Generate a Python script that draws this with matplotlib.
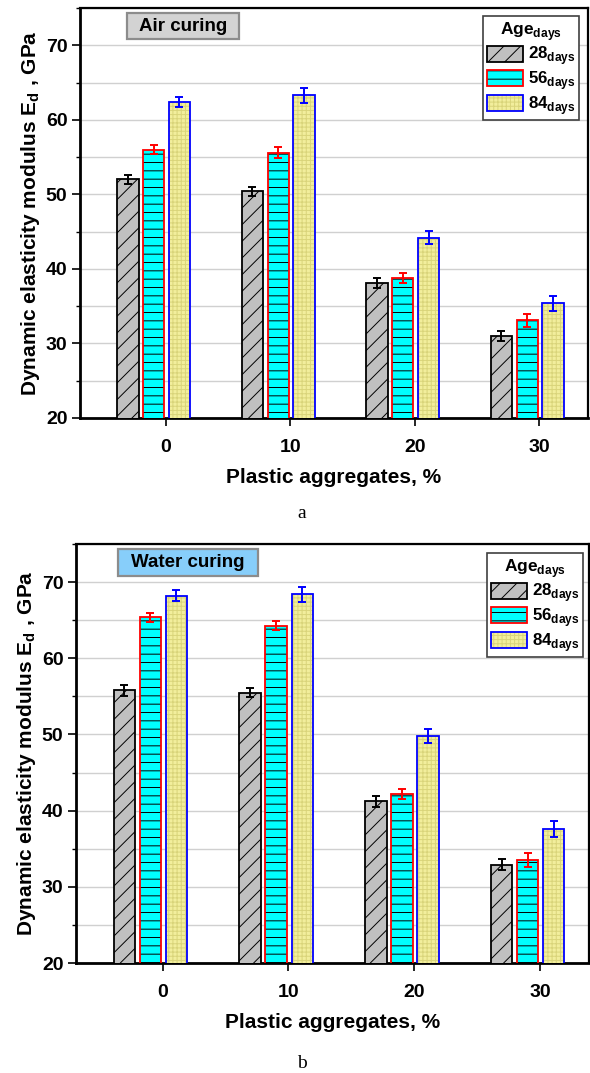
import numpy as np
import matplotlib
matplotlib.use("Agg")
import matplotlib.pyplot as plt
from matplotlib.patches import Patch, Rectangle
from matplotlib.legend_handler import HandlerTuple
from matplotlib.ticker import MultipleLocator

plt.rcParams['font.family'] = ['Liberation Sans', 'DejaVu Sans']
plt.rcParams['font.weight'] = 'bold'
plt.rcParams['mathtext.fontset'] = 'custom'
plt.rcParams['mathtext.rm'] = 'Liberation Sans:bold'
plt.rcParams['mathtext.bf'] = 'Liberation Sans:bold'
plt.rcParams['hatch.linewidth'] = 0.7

# plastic aggregate content, %
plastic = [0, 10, 20, 30]
ages = ['28', '56', '84']

# dynamic modulus E_d (GPa), air curing
air_28 = [52.0, 50.4, 38.1, 31.0]
air_56 = [56.0, 55.6, 38.8, 33.1]
air_84 = [62.4, 63.3, 44.2, 35.4]
air_28_err = [0.6, 0.6, 0.7, 0.7]
air_56_err = [0.6, 0.7, 0.7, 0.9]
air_84_err = [0.7, 1.0, 0.9, 1.0]

# dynamic modulus E_d (GPa), water curing
water_28 = [55.8, 55.5, 41.2, 32.9]
water_56 = [65.4, 64.3, 42.2, 33.5]
water_84 = [68.2, 68.4, 49.8, 37.6]
water_28_err = [0.7, 0.6, 0.7, 0.7]
water_56_err = [0.6, 0.65, 0.7, 0.9]
water_84_err = [0.7, 1.0, 0.9, 1.0]

# fill, hatch colour, hatch, outline for each age
styles = [
    ('#c0c0c0', 'black', '//', 'black'),
    ('#00ffff', 'black', '--', 'red'),
    ('#f2ee9c', '#d9d47a', '++++', 'blue'),
]
offsets = [-3.05, -0.98, 1.09]
width = 1.7


def draw_panel(ax, series, errors, tag, tagcolor, tagbox, legpos):
    x = np.array(plastic, dtype=float)
    for vals, errs, off, (fc, hc, hatch, ec) in zip(series, errors, offsets, styles):
        ax.bar(x + off, vals, width, color=fc, edgecolor=hc,
               linewidth=0, hatch=hatch, zorder=3)
        ax.bar(x + off, vals, width, fill=False, edgecolor=ec,
               linewidth=1.3, zorder=4)
        ax.errorbar(x + off, vals, yerr=errs, fmt='none', ecolor=ec,
                    elinewidth=1.4, capsize=3.2, capthick=1.4, zorder=5)

    ax.set_ylim(20, 75)
    ax.set_xlim(-6.9, 33.9)
    ax.set_xticks(plastic)
    ax.yaxis.set_major_locator(MultipleLocator(10))
    ax.yaxis.set_minor_locator(MultipleLocator(5))
    ax.grid(True, which='both', axis='y', color='#d0d0d0', linewidth=1.0, zorder=0)
    ax.set_axisbelow(True)
    ax.tick_params(axis='both', which='major', labelsize=14, length=6, width=1.2, direction='out')
    ax.tick_params(axis='y', which='minor', length=3, width=1.0, direction='out')
    ax.tick_params(axis='x', pad=9)
    ax.tick_params(axis='y', pad=3)
    for lab in ax.get_xticklabels() + ax.get_yticklabels():
        lab.set_fontweight('bold')
    for side in ['left', 'bottom']:
        ax.spines[side].set_linewidth(2.0)
    for side in ['top', 'right']:
        ax.spines[side].set_linewidth(1.6)

    ax.set_ylabel(r'Dynamic elasticity modulus E$_\mathbf{d}$ , GPa', fontsize=15,
                  fontweight='bold', labelpad=3)
    ax.set_xlabel('Plastic aggregates, %', fontsize=15, fontweight='bold', labelpad=9)

    # curing label box
    x0, x1, y0, y1 = tagbox
    ax.add_patch(Rectangle((x0, y0), x1 - x0, y1 - y0, transform=ax.transAxes,
                           facecolor=tagcolor, edgecolor='#8c8c8c', linewidth=1.6,
                           zorder=6, clip_on=False))
    ax.text((x0 + x1) / 2, (y0 + y1) / 2, tag, transform=ax.transAxes, fontsize=13.5,
            fontweight='bold', ha='center', va='center', zorder=7)

    handles = []
    for fc, hc, hatch, ec in styles:
        handles.append((Patch(facecolor=fc, edgecolor=hc, linewidth=0, hatch=hatch),
                        Patch(fill=False, edgecolor=ec, linewidth=1.3)))
    labels = [a + r'$_\mathbf{days}$' for a in ages]
    leg = ax.legend(handles, labels, title=r'Age$_\mathbf{days}$', loc='upper right',
                    bbox_to_anchor=legpos, fontsize=12.2, title_fontsize=12.5,
                    handler_map={tuple: HandlerTuple(ndivide=1, pad=0)},
                    handlelength=2.15, handleheight=1.08, handletextpad=0.25,
                    labelspacing=0.1, borderpad=0.22, borderaxespad=0,
                    fancybox=False, framealpha=1, edgecolor='#404040')
    leg.get_frame().set_linewidth(1.2)
    leg.get_title().set_fontweight('bold')
    leg.set_zorder(8)


fig = plt.figure(figsize=(5.9, 10.73), dpi=100)
H = 1073.0
W = 590.0
ax1 = fig.add_axes([80 / W, 1 - 418 / H, 508 / W, (418 - 8) / H])
ax2 = fig.add_axes([76 / W, 1 - 963 / H, 513 / W, (963 - 544) / H])

draw_panel(ax1, [air_28, air_56, air_84], [air_28_err, air_56_err, air_84_err],
           'Air curing', '#d3d3d3', (0.0925, 0.313, 0.924, 0.988), (0.982, 0.980))
draw_panel(ax2, [water_28, water_56, water_84], [water_28_err, water_56_err, water_84_err],
           'Water curing', '#87cefa', (0.082, 0.355, 0.924, 0.988), (0.988, 0.978))

fig.text(302 / W, 1 - 513 / H, 'a', fontsize=14, fontweight='normal',
         family='Liberation Serif', ha='center', va='center')
fig.text(302 / W, 1 - 1063 / H, 'b', fontsize=14, fontweight='normal',
         family='Liberation Serif', ha='center', va='center')

fig.savefig('out.png', dpi=100)
